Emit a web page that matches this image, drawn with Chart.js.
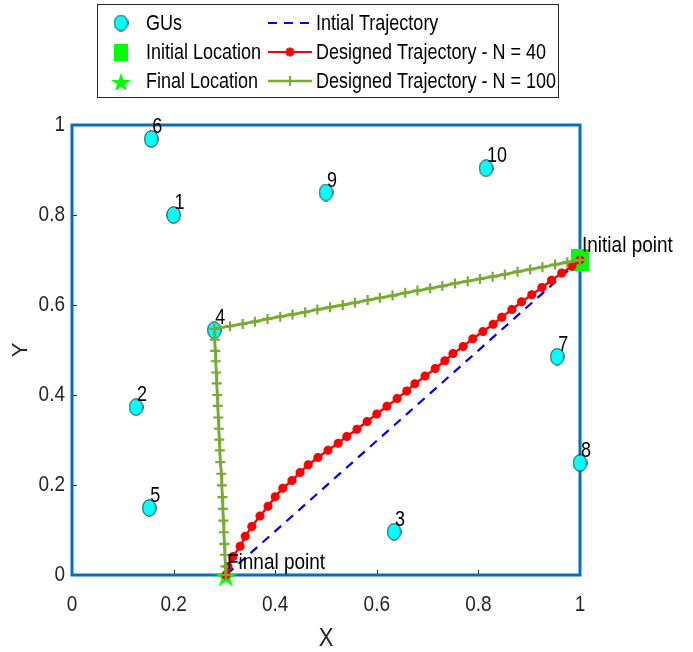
<!DOCTYPE html>
<html><head><meta charset="utf-8">
<script src="https://cdn.jsdelivr.net/npm/chart.js@4"></script>
<style>html,body{margin:0;padding:0;background:#fff;}canvas{display:block;}</style>
</head><body>
<canvas id="c" width="693" height="652"></canvas>
<script>
// ---- data ----
const guLabels = ['1','2','3','4','5','6','7','8','9','10'];
const guX = [0.200, 0.126, 0.634, 0.280, 0.152, 0.156, 0.955, 1.000, 0.500, 0.815];
const guY = [0.800, 0.373, 0.096, 0.544, 0.149, 0.969, 0.485, 0.249, 0.850, 0.904];
const initialX = [1.0], initialY = [0.7];
const finalX = [0.303], finalY = [0.0];
const initTrajX = [1.0, 0.303];
const initTrajY = [0.7, 0.0];
const n40X = [1.000,0.984,0.964,0.944,0.925,0.905,0.885,0.866,0.846,0.829,0.809,0.789,0.770,0.750,0.734,0.715,0.695,0.675,0.659,0.640,0.620,0.600,0.581,0.561,0.541,0.524,0.504,0.484,0.465,0.449,0.433,0.415,0.400,0.386,0.370,0.354,0.341,0.331,0.317,0.307,0.303];
const n40Y = [0.700,0.686,0.671,0.655,0.639,0.623,0.607,0.590,0.573,0.557,0.541,0.525,0.508,0.492,0.476,0.459,0.442,0.425,0.409,0.392,0.375,0.358,0.341,0.324,0.308,0.293,0.277,0.261,0.245,0.228,0.210,0.193,0.174,0.153,0.131,0.108,0.086,0.064,0.041,0.019,0.000];
const n100X = [1.000,0.975,0.951,0.926,0.902,0.877,0.852,0.828,0.803,0.779,0.754,0.729,0.705,0.680,0.656,0.631,0.606,0.582,0.557,0.533,0.508,0.483,0.459,0.434,0.410,0.385,0.360,0.336,0.311,0.280,0.281,0.282,0.283,0.284,0.285,0.286,0.287,0.288,0.289,0.290,0.291,0.292,0.294,0.295,0.296,0.297,0.298,0.299,0.300,0.301,0.302,0.303];
const n100Y = [0.700,0.695,0.690,0.684,0.679,0.674,0.668,0.663,0.658,0.653,0.648,0.642,0.637,0.632,0.627,0.621,0.616,0.611,0.605,0.600,0.595,0.590,0.584,0.579,0.574,0.569,0.563,0.558,0.553,0.547,0.523,0.498,0.475,0.450,0.426,0.400,0.376,0.350,0.325,0.301,0.277,0.251,0.225,0.199,0.173,0.147,0.121,0.095,0.069,0.045,0.019,0.000];
const xTicks = [0, 0.2, 0.4, 0.6, 0.8, 1];
const xTickLabels = ['0','0.2','0.4','0.6','0.8','1'];
const yTicks = [0, 0.2, 0.4, 0.6, 0.8, 1];
const yTickLabels = ['0','0.2','0.4','0.6','0.8','1'];
const xTitle = 'X', yTitle = 'Y';
const legendLabels = ['GUs','Initial Location','Final Location','Intial Trajectory','Designed Trajectory - N = 40','Designed Trajectory - N = 100'];
const startText = 'Initial point', endText = 'Finnal point';

// ---- styles ----
const C_GU = '#00FFFF', C_LOC = '#00FF00', C_RED = '#FF0000', C_GRN = '#77AC30', C_BLUE = '#0000FF', C_AX = '#0072BD', C_TXT = '#262626';
const FONT = '"Liberation Sans", Arial, Helvetica, sans-serif';
const SY = 1.18;

function mk(w, h, draw) { const c = document.createElement('canvas'); c.width = w; c.height = h; draw(c.getContext('2d'), w, h); return c; }
function ellipse(w, h) {
  return mk(w, h, (g) => { g.beginPath(); g.ellipse(w/2, h/2, w/2-0.7, h/2-0.7, 0, 0, Math.PI*2); g.fillStyle = C_GU; g.fill(); g.lineWidth = 0.8; g.strokeStyle = '#000'; g.stroke(); });
}
function square(w, h) { return mk(w, h, (g) => { g.fillStyle = C_LOC; g.fillRect(0, 0, w, h); }); }
function star(w, h) {
  return mk(w, h, (g) => {
    const R = w/2/Math.sin(Math.PI*72/180) , r = R*0.382;
    const cx = w/2, cy = R + 0.5;
    g.beginPath();
    for (let i = 0; i < 10; i++) {
      const a = -Math.PI/2 + i*Math.PI/5; const rr = i%2 ? r : R;
      const px = cx + rr*Math.cos(a), py = cy + rr*Math.sin(a)*(h/(R*1.809));
      i ? g.lineTo(px, py) : g.moveTo(px, py);
    }
    g.closePath(); g.fillStyle = C_LOC; g.fill();
  });
}
const guImg = ellipse(15, 18), sqImg = square(18, 22), starImg = star(23, 21);
const guImgL = ellipse(15, 17), sqImgL = square(14, 17), starImgL = star(20, 18);

const pts = (xs, ys) => xs.map((v, i) => ({x: v, y: ys[i]}));

function txt(ctx, s, x, y, size, align, base, color, sy) {
  ctx.save(); ctx.translate(x, y); ctx.scale(1, sy || SY);
  ctx.font = size + 'px ' + FONT; ctx.textAlign = align; ctx.textBaseline = base; ctx.fillStyle = color || C_TXT;
  ctx.fillText(s, 0, 0); ctx.restore();
}

const deco = {
  id: 'deco',
  beforeDatasetsDraw(chart) {
    const {ctx, chartArea: a, scales: {x, y}} = chart;
    ctx.save();
    ctx.strokeStyle = C_TXT; ctx.lineWidth = 1;
    xTicks.forEach(v => { const p = Math.round(x.getPixelForValue(v)) + 0.5; ctx.beginPath(); ctx.moveTo(p, a.bottom); ctx.lineTo(p, a.bottom - 5); ctx.stroke(); });
    yTicks.forEach(v => { const p = Math.round(y.getPixelForValue(v)) + 0.5; ctx.beginPath(); ctx.moveTo(a.left, p); ctx.lineTo(a.left + 5, p); ctx.stroke(); });
    ctx.strokeStyle = C_AX; ctx.lineWidth = 3;
    ctx.strokeRect(a.left, a.top, a.right - a.left, a.bottom - a.top);
    ctx.restore();
  },
  afterDraw(chart) {
    const {ctx, chartArea: a, scales: {x, y}} = chart;
    // tick labels
    xTicks.forEach((v, i) => txt(ctx, xTickLabels[i], x.getPixelForValue(v), a.bottom + 30, 19, 'center', 'middle'));
    yTicks.forEach((v, i) => txt(ctx, yTickLabels[i], a.left - 7, y.getPixelForValue(v), 19, 'right', 'middle'));
    // axis titles
    txt(ctx, xTitle, (a.left + a.right) / 2, a.bottom + 64, 22, 'center', 'middle');
    ctx.save(); ctx.translate(21, (a.top + a.bottom) / 2); ctx.rotate(-Math.PI / 2);
    ctx.font = '22px ' + FONT; ctx.textAlign = 'center'; ctx.textBaseline = 'middle'; ctx.fillStyle = C_TXT; ctx.fillText(yTitle, 0, 0); ctx.restore();
    // GU numbers
    guX.forEach((v, i) => txt(ctx, guLabels[i], x.getPixelForValue(v) + 1, y.getPixelForValue(guY[i]) - 6, 18, 'left', 'alphabetic', '#000'));
    // start / end annotations
    txt(ctx, startText, x.getPixelForValue(initialX[0]) + 2, y.getPixelForValue(initialY[0]) - 8, 19, 'left', 'alphabetic', '#000');
    txt(ctx, endText, x.getPixelForValue(finalX[0]) + 1, y.getPixelForValue(finalY[0]) - 6, 19, 'left', 'alphabetic', '#000');
    // legend
    ctx.save();
    ctx.fillStyle = '#fff'; ctx.fillRect(97.5, 4.5, 461, 93);
    ctx.strokeStyle = C_TXT; ctx.lineWidth = 1; ctx.strokeRect(97.5, 4.5, 461, 93);
    const rows = [23, 52, 81];
    ctx.drawImage(guImgL, 121 - guImgL.width/2, rows[0] - guImgL.height/2);
    ctx.drawImage(sqImgL, 121 - sqImgL.width/2, rows[1] - sqImgL.height/2);
    ctx.drawImage(starImgL, 121 - starImgL.width/2, rows[2] - starImgL.height/2);
    // col2 lines
    ctx.lineWidth = 2.2; ctx.strokeStyle = C_BLUE; ctx.setLineDash([9, 7]);
    ctx.beginPath(); ctx.moveTo(268, rows[0]); ctx.lineTo(312, rows[0]); ctx.stroke();
    ctx.setLineDash([]);
    ctx.strokeStyle = C_RED; ctx.beginPath(); ctx.moveTo(268, rows[1]); ctx.lineTo(312, rows[1]); ctx.stroke();
    ctx.lineWidth = 2.8;
    for (let k = 0; k < 4; k++) { const an = k * Math.PI / 4; ctx.beginPath(); ctx.moveTo(290 - 4.5*Math.cos(an), rows[1] - 4.5*Math.sin(an)); ctx.lineTo(290 + 4.5*Math.cos(an), rows[1] + 4.5*Math.sin(an)); ctx.stroke(); }
    ctx.strokeStyle = C_GRN; ctx.lineWidth = 2.5; ctx.beginPath(); ctx.moveTo(268, rows[2]); ctx.lineTo(312, rows[2]); ctx.stroke();
    ctx.lineWidth = 2; ctx.beginPath(); ctx.moveTo(290, rows[2] - 5); ctx.lineTo(290, rows[2] + 5); ctx.stroke();
    ctx.restore();
    legendLabels.forEach((s, i) => txt(ctx, s, i < 3 ? 146 : 316, rows[i % 3] + 1, 18, 'left', 'middle', '#000'));
  }
};

new Chart(document.getElementById('c'), {
  type: 'scatter',
  data: {
    datasets: [
      {label: legendLabels[5], data: pts(n100X, n100Y), showLine: true, borderColor: C_GRN, backgroundColor: C_GRN, borderWidth: 2.8,
       pointStyle: 'cross', pointRadius: 5, pointBorderWidth: 2.2, pointBorderColor: C_GRN, order: 1, clip: false},
      {label: legendLabels[4], data: pts(n40X, n40Y), showLine: true, borderColor: C_RED, backgroundColor: C_RED, borderWidth: 2.4,
       pointStyle: 'star', pointRadius: 4.5, pointBorderWidth: 3, pointBorderColor: C_RED, order: 2, clip: false},
      {label: legendLabels[3], data: pts(initTrajX, initTrajY), showLine: true, borderColor: C_BLUE, borderWidth: 2.2, borderDash: [9, 7],
       pointRadius: 0, order: 3, clip: false},
      {label: legendLabels[2], data: pts(finalX, finalY), pointStyle: starImg, pointRadius: 10, order: 4, clip: false},
      {label: legendLabels[1], data: pts(initialX, initialY), pointStyle: sqImg, pointRadius: 10, order: 5, clip: false},
      {label: legendLabels[0], data: pts(guX, guY), pointStyle: guImg, pointRadius: 8, order: 6, clip: false}
    ]
  },
  options: {
    responsive: false, animation: false, events: [],
    layout: {padding: {left: 72, top: 125, right: 113, bottom: 77}},
    plugins: {legend: {display: false}, tooltip: {enabled: false}},
    scales: {
      x: {type: 'linear', min: 0, max: 1, display: false},
      y: {type: 'linear', min: 0, max: 1, display: false}
    }
  },
  plugins: [deco]
});
</script>
</body></html>
